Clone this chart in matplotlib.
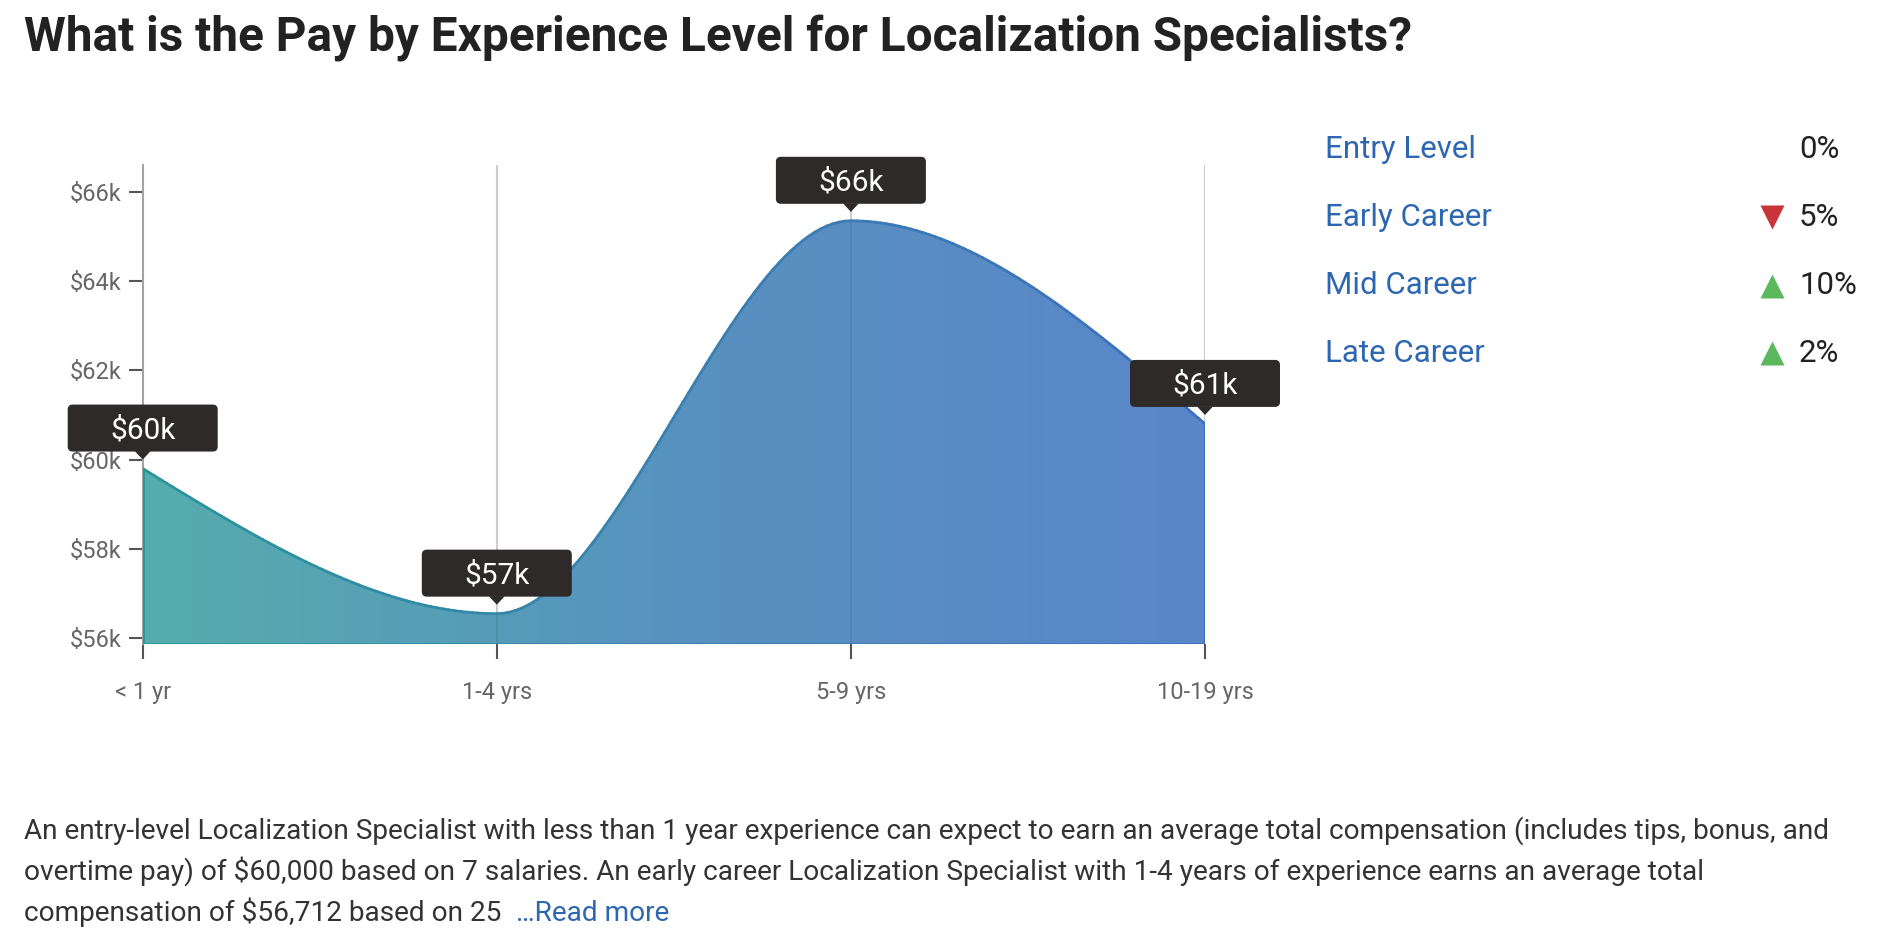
import numpy as np
import matplotlib.pyplot as plt
from matplotlib.path import Path
from matplotlib.patches import PathPatch, FancyBboxPatch, Polygon
from matplotlib.collections import LineCollection
from matplotlib.colors import LinearSegmentedColormap

plt.rcParams['font.family'] = ['Roboto', 'DejaVu Sans']

# --- values ---
experience = ['< 1 yr', '1-4 yrs', '5-9 yrs', '10-19 yrs']
pay_k = [59.8, 56.55, 65.35, 60.8]            # plotted height, $k
tip_labels = ['$60k', '$57k', '$66k', '$61k']
yticks_k = [56, 58, 60, 62, 64, 66]

levels = ['Entry Level', 'Early Career', 'Mid Career', 'Late Career']
change_pct = [0, -5, 10, 2]

title = 'What is the Pay by Experience Level for Localization Specialists?'
blurb = [
    'An entry-level Localization Specialist with less than 1 year experience can expect to earn an '
    'average total compensation (includes tips, bonus, and',
    'overtime pay) of $60,000 based on 7 salaries. An early career Localization Specialist with 1-4 '
    'years of experience earns an average total',
    'compensation of $56,712 based on 25',
]
read_more = '\u2026Read more'

BLUE_TXT = '#2d66b1'
W, H, DPI = 1888, 938, 100


def monotone_tangents(x, y):
    # same rule as d3.curveMonotoneX
    x = np.asarray(x, float)
    y = np.asarray(y, float)
    h = np.diff(x)
    s = np.diff(y) / h
    t = np.zeros_like(y)
    for i in range(1, len(y) - 1):
        p = (s[i - 1] * h[i] + s[i] * h[i - 1]) / (h[i - 1] + h[i])
        t[i] = (np.sign(s[i - 1]) + np.sign(s[i])) * min(abs(s[i - 1]), abs(s[i]), 0.5 * abs(p))
    t[0] = (3 * s[0] - t[1]) / 2
    t[-1] = (3 * s[-1] - t[-2]) / 2
    return t


fig = plt.figure(figsize=(W / DPI, H / DPI), dpi=DPI)
fig.patch.set_facecolor('white')

ax = fig.add_axes([142.7 / W, 1 - 644 / H, (1205 - 142.7) / W, (644 - 165) / H])
y0, y1 = 55.87, 66.6
xs = np.arange(len(pay_k))

# smooth area path
t = monotone_tangents(xs, pay_k)
verts = [(xs[0], y0), (xs[0], pay_k[0])]
codes = [Path.MOVETO, Path.LINETO]
for i in range(len(xs) - 1):
    dx = (xs[i + 1] - xs[i]) / 3
    verts += [(xs[i] + dx, pay_k[i] + dx * t[i]),
              (xs[i + 1] - dx, pay_k[i + 1] - dx * t[i + 1]),
              (xs[i + 1], pay_k[i + 1])]
    codes += [Path.CURVE4] * 3
verts += [(xs[-1], y0), (xs[0], y0)]
codes += [Path.LINETO, Path.LINETO]
path = Path(verts, codes)

fill_cmap = LinearSegmentedColormap.from_list('fill', ['#56adad', '#5792bf', '#5a86c9'])
edge_cmap = LinearSegmentedColormap.from_list('edge', ['#2a9698', '#3a80b0', '#3d70bd'])

area = PathPatch(path, facecolor='none', edgecolor='none')
ax.add_patch(area)
grad = np.linspace(0, 1, 256).reshape(1, -1)
img = ax.imshow(grad, cmap=fill_cmap, extent=(xs[0], xs[-1], y0, y1), aspect='auto',
                origin='lower', interpolation='bilinear', zorder=1)
img.set_clip_path(area)

pts = np.concatenate([seg(np.linspace(0, 1, 60)) for seg, _ in path.iter_bezier()])
segs = np.stack([pts[:-1], pts[1:]], axis=1)
mid_x = segs[:, :, 0].mean(axis=1) / xs[-1]
ax.add_collection(LineCollection(segs, colors=edge_cmap(mid_x), linewidths=2, zorder=3,
                                 capstyle='round'))

# grid: light grey above the area, faint inside it
ax.vlines(xs[1:], pay_k[1:], y1, color='#cccccc', lw=1.5, zorder=2)
ax.vlines(xs[1:], y0, pay_k[1:], color='black', alpha=0.07, lw=1.5, zorder=2)

ax.set_xlim(xs[0], xs[-1])
ax.set_ylim(y0, y1)
ax.set_xticks(xs, experience)
ax.set_yticks(yticks_k, [f'${v}k' for v in yticks_k])
for side in ['top', 'right', 'bottom']:
    ax.spines[side].set_visible(False)
ax.spines['left'].set_color('#a3a3a3')
ax.spines['left'].set_linewidth(1.5)
ax.tick_params(axis='x', length=11, width=1.5, color='#555555', pad=15.5,
               labelsize=17, labelcolor='#666666')
ax.tick_params(axis='y', length=10, width=1.5, color='#555555', pad=5,
               labelsize=17, labelcolor='#666666')

# overlay in pixel coordinates for title, tooltips, side panel and text
ov = fig.add_axes([0, 0, 1, 1])
ov.set_xlim(0, W)
ov.set_ylim(H, 0)
ov.axis('off')

ov.text(24, 51.5, title, fontsize=34.4, fontweight='bold', color='#222222', va='baseline')

to_px = ov.transData.inverted()
for xi, yi, lab in zip(xs, pay_k, tip_labels):
    px, py = to_px.transform(ax.transData.transform((xi, yi)))
    ov.add_patch(FancyBboxPatch((px - 75, py - 64), 150, 47,
                                boxstyle='round,pad=0,rounding_size=5',
                                fc='#2d2a29', ec='none', zorder=5))
    ov.add_patch(Polygon([(px - 8, py - 17.5), (px + 8, py - 17.5), (px, py - 9)],
                         closed=True, fc='#2d2a29', ec='none', zorder=5))
    ov.text(px, py - 41.5, lab, color='white', fontsize=21.5, ha='center',
            va='center_baseline', zorder=6)

row_y = [149, 217, 285.6, 353.4]
for lvl, pct, ry in zip(levels, change_pct, row_y):
    ov.text(1325, ry, lvl, fontsize=22.5, color=BLUE_TXT, va='center')
    ov.text(1799, ry, f'{abs(pct)}%', fontsize=22.5, color='#222222', va='center')
    if pct > 0:
        ov.plot(1772, ry, marker='^', ms=17, color='#5cb85c', mec='none')
    elif pct < 0:
        ov.plot(1772, ry, marker='v', ms=17, color='#c9343a', mec='none')

line_y = [839, 880, 921]
last = None
for txt, ly in zip(blurb, line_y):
    last = ov.text(24, ly, txt, fontsize=20.2, color='#333333', va='baseline')
fig.canvas.draw()
bb = last.get_window_extent()
x_end = to_px.transform((bb.x1, bb.y0))[0]
ov.text(x_end + 15, line_y[-1], read_more, fontsize=20.2, color=BLUE_TXT, va='baseline')

fig.savefig('out.png', dpi=DPI, facecolor='white')
